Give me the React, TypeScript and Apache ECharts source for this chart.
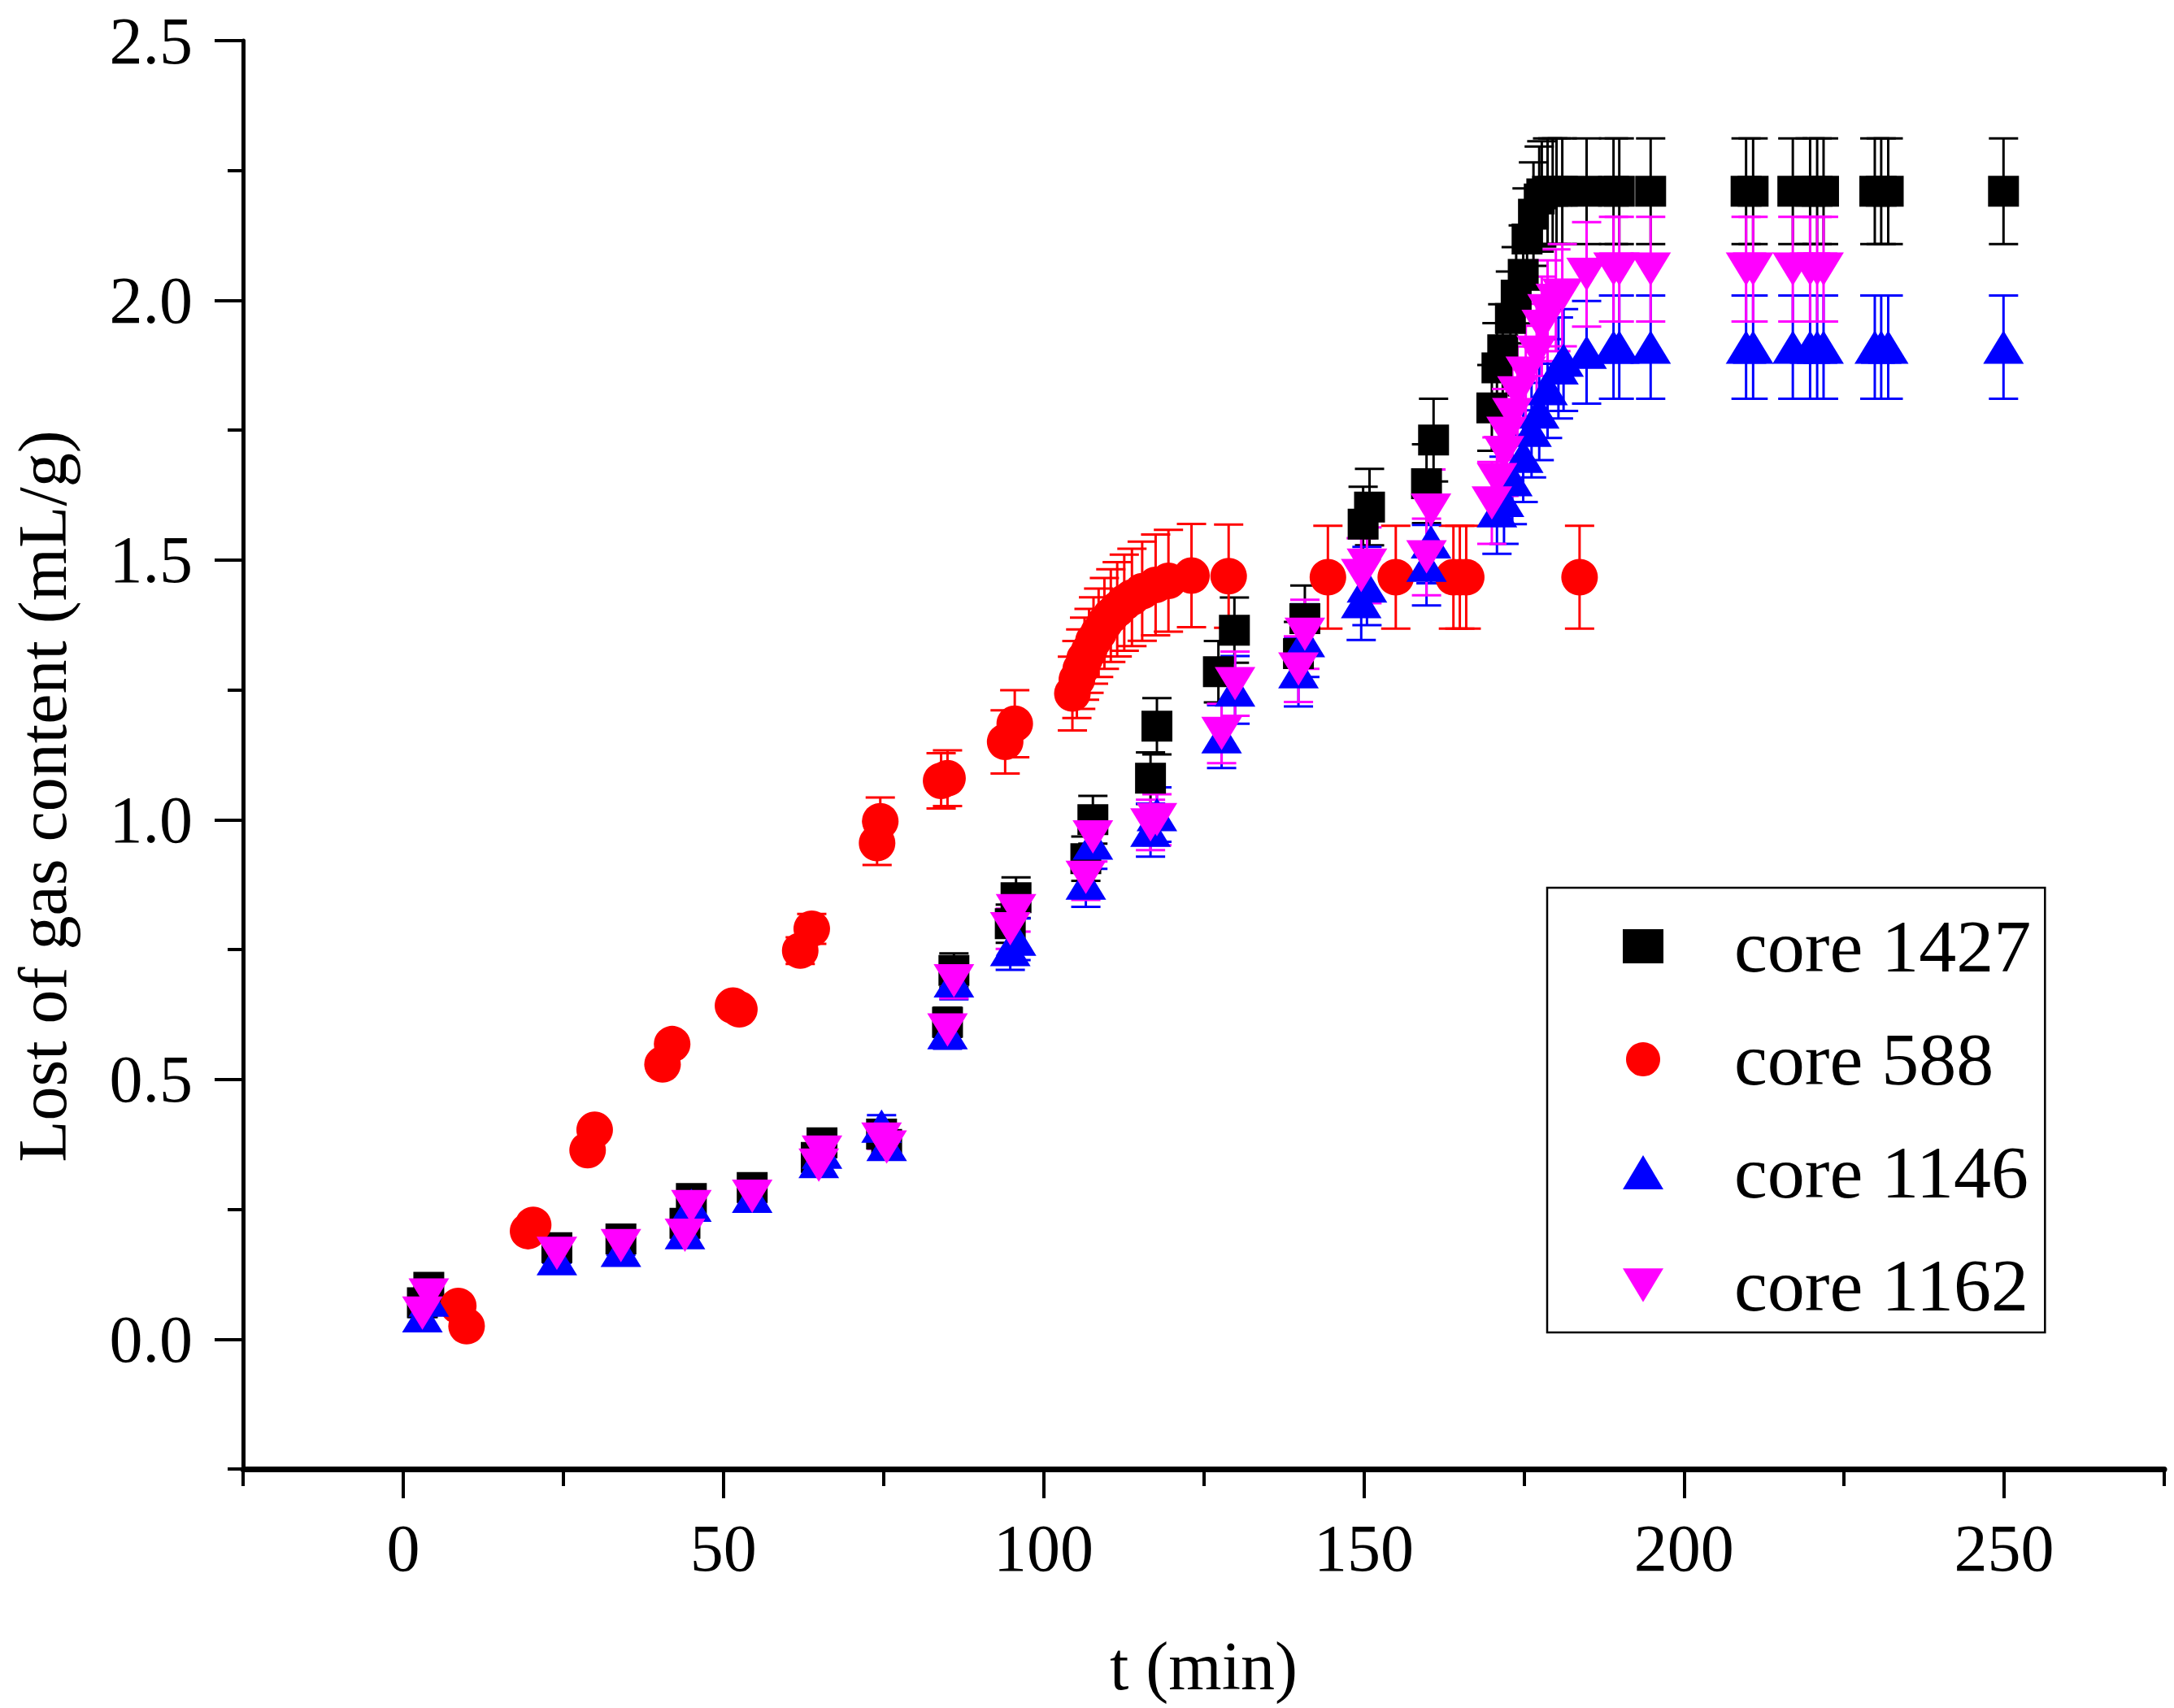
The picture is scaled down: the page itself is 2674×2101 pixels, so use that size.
import React, { useEffect, useRef } from "react";
import * as echarts from "echarts";

// ---- data ----
const T1427 = [3, 4, 24, 34, 44, 45, 54.5, 64.5, 65.4, 74.7, 75.5, 85, 86, 94.8, 95.7, 106.6, 107.7, 116.7, 117.7, 127.3, 129.8, 139.8, 140.8, 149.9, 150.9, 159.8, 160.9, 170.0, 170.8, 171.7, 172.9, 173.8, 174.9, 175.5, 176.5, 177.4, 177.8, 178.7, 179.5, 180.1, 181.0, 184.8, 189.0, 189.9, 194.8, 209.7, 210.8, 217.0, 219.7, 220.8, 221.8, 229.8, 230.8, 231.9, 249.9];
const V1427 = [0.07, 0.10, 0.176, 0.193, 0.223, 0.271, 0.292, 0.35, 0.378, 0.395, 0.375, 0.61, 0.71, 0.80, 0.85, 0.925, 1.0, 1.08, 1.18, 1.285, 1.365, 1.32, 1.387, 1.569, 1.602, 1.647, 1.731, 1.793, 1.87, 1.905, 1.965, 2.01, 2.05, 2.118, 2.166, 2.195, 2.205, 2.21, 2.21, 2.21, 2.21, 2.21, 2.21, 2.21, 2.21, 2.21, 2.21, 2.21, 2.21, 2.21, 2.21, 2.21, 2.21, 2.21, 2.21];

const T588 = [8.6, 9.9, 19.5, 20.3, 28.8, 29.9, 40.5, 42.0, 51.5, 52.5, 62.0, 63.8, 74.0, 74.5, 84.0, 85.0, 94.0, 95.5, 104.5, 105.2, 105.8, 106.4, 107.1, 107.8, 108.6, 109.5, 110.5, 111.5, 112.6, 113.8, 115.4, 117.5, 119.5, 123.1, 128.9, 144.4, 155.0, 164.0, 165.0, 166.0, 183.7];
const V588 = [0.064, 0.025, 0.208, 0.22, 0.364, 0.403, 0.529, 0.568, 0.642, 0.635, 0.748, 0.79, 0.955, 0.997, 1.075, 1.08, 1.15, 1.185, 1.243, 1.27, 1.29, 1.31, 1.325, 1.345, 1.36, 1.378, 1.393, 1.405, 1.418, 1.428, 1.44, 1.452, 1.46, 1.47, 1.469, 1.467, 1.467, 1.467, 1.467, 1.467, 1.467];

const T1146 = [3, 4, 24, 34, 44, 45, 54.5, 64.9, 65.4, 74.7, 75.5, 85, 86, 94.8, 95.7, 106.6, 107.7, 116.7, 117.7, 127.8, 129.9, 139.8, 140.8, 149.6, 150.5, 159.8, 160.5, 170.8, 171.9, 173.2, 174.9, 176.2, 177.4, 178.7, 180.4, 181.2, 184.8, 189.0, 189.9, 194.8, 209.7, 210.8, 217.0, 219.7, 220.8, 221.8, 229.8, 230.8, 231.9, 249.9];
const V1146 = [0.045, 0.075, 0.155, 0.171, 0.205, 0.258, 0.275, 0.342, 0.36, 0.41, 0.375, 0.59, 0.69, 0.75, 0.77, 0.878, 0.955, 0.98, 1.01, 1.16, 1.25, 1.285, 1.345, 1.42, 1.45, 1.49, 1.535, 1.595, 1.615, 1.655, 1.70, 1.75, 1.785, 1.83, 1.87, 1.885, 1.90, 1.91, 1.91, 1.91, 1.91, 1.91, 1.91, 1.91, 1.91, 1.91, 1.91, 1.91, 1.91, 1.91];

const T1162 = [3, 4, 24, 34, 44, 45, 54.5, 64.9, 65.4, 74.7, 75.5, 85, 86, 94.8, 95.7, 106.6, 107.7, 116.7, 117.7, 127.8, 129.9, 139.8, 140.8, 149.6, 150.5, 159.8, 160.5, 170.0, 170.8, 171.9, 172.3, 173.2, 174.0, 175.3, 177.0, 177.8, 178.7, 180.0, 181.0, 184.8, 189.0, 189.9, 194.8, 209.7, 210.8, 217.0, 219.7, 220.8, 221.8];
const V1162 = [0.05, 0.085, 0.165, 0.18, 0.2, 0.255, 0.275, 0.335, 0.36, 0.385, 0.37, 0.595, 0.69, 0.79, 0.825, 0.889, 0.967, 0.99, 1.0, 1.166, 1.262, 1.29, 1.357, 1.47, 1.49, 1.506, 1.596, 1.61, 1.655, 1.707, 1.744, 1.78, 1.822, 1.86, 1.90, 1.95, 1.98, 2.0, 2.01, 2.05, 2.06, 2.06, 2.06, 2.06, 2.06, 2.06, 2.06, 2.06, 2.06];

const X_LABELS = [0, 50, 100, 150, 200, 250];
const X_MINOR = [-25, 25, 75, 125, 175, 225, 275];
const Y_LABELS = [0, 0.5, 1.0, 1.5, 2.0, 2.5];
const Y_MINOR = [-0.25, 0.25, 0.75, 1.25, 1.75, 2.25];

const FONT = "'Liberation Serif', 'Times New Roman', serif";
const DOWN_TRIANGLE = "path://M0,0 L12,0 L6,10 Z";

type SeriesDef = {
  name: string;
  t: number[];
  v: number[];
  color: string;
  symbol: string;
  size: number | number[];
  rotate: number;
  legendIcon?: string;
  err: (v: number) => number;
};

const SERIES: SeriesDef[] = [
  { name: "core 1427", t: T1427, v: V1427, color: "#000000", symbol: "rect", size: 38, rotate: 0, legendIcon: "rect", err: (v) => 0.046 * v },
  { name: "core 588", t: T588, v: V588, color: "#ff0000", symbol: "circle", size: 45, rotate: 0, legendIcon: "circle", err: (v) => 0.046 * v * v },
  { name: "core 1146", t: T1146, v: V1146, color: "#0000ff", symbol: "triangle", size: [50, 41], rotate: 0, legendIcon: "triangle", err: (v) => 0.052 * v },
  { name: "core 1162", t: T1162, v: V1162, color: "#ff00ff", symbol: "triangle", size: [50, 41], rotate: 180, legendIcon: DOWN_TRIANGLE, err: (v) => 0.049 * v },
];

export default function App() {
  const ref = useRef<HTMLDivElement>(null);

  useEffect(() => {
    if (!ref.current) return;
    const chart = echarts.init(ref.current, undefined, { renderer: "svg" });

    const series: any[] = [];
    SERIES.forEach((s) => {
      const pts = s.t.map((t, i) => [t, s.v[i]]);
      const errPts = s.t.map((t, i) => [t, s.v[i], s.err(s.v[i])]);
      series.push({
        type: "custom",
        name: s.name + " err",
        data: errPts,
        encode: { x: 0, y: 1 },
        silent: true,
        renderItem: (params: any, api: any) => {
          const x = api.value(0);
          const y = api.value(1);
          const e = api.value(2);
          const top = api.coord([x, y + e]);
          const bot = api.coord([x, y - e]);
          const hw = 18;
          const style = { stroke: s.color, lineWidth: 3 };
          return {
            type: "group",
            children: [
              { type: "line", shape: { x1: top[0], y1: top[1], x2: bot[0], y2: bot[1] }, style },
              { type: "line", shape: { x1: top[0] - hw, y1: top[1], x2: top[0] + hw, y2: top[1] }, style },
              { type: "line", shape: { x1: bot[0] - hw, y1: bot[1], x2: bot[0] + hw, y2: bot[1] }, style },
            ],
          };
        },
      });
      series.push({
        type: "scatter",
        name: s.name,
        data: pts,
        symbol: s.symbol,
        symbolSize: s.size,
        symbolRotate: s.rotate,
        itemStyle: { color: s.color, opacity: 1 },
        emphasis: { disabled: true },
      });
    });

    const axisLabelStyle = { fontFamily: FONT, fontSize: 82, color: "#000" };

    chart.setOption({
      animation: false,
      backgroundColor: "#ffffff",
      grid: { left: 299, right: 12, top: 50, bottom: 294, containLabel: false, outerBoundsMode: "none" },
      legend: {
        data: SERIES.map((s) => ({ name: s.name, icon: s.legendIcon, itemStyle: { color: s.color } })),
        orient: "vertical",
        left: 1903,
        top: 1092,
        padding: [22, 17, 8, 93],
        itemGap: 39,
        itemWidth: 50,
        itemHeight: 42,
        borderColor: "#000",
        borderWidth: 2.5,
        backgroundColor: "#ffffff",
        selectedMode: false,
        textStyle: { fontFamily: FONT, fontSize: 92, color: "#000", lineHeight: 100, padding: [0, 0, 0, 82] },
      },
      xAxis: [
        {
          type: "value",
          min: -25,
          max: 275,
          position: "bottom",
          name: "t (min)",
          nameLocation: "middle",
          nameGap: 200,
          nameTextStyle: { fontFamily: FONT, fontSize: 84, color: "#000" },
          axisLine: { show: true, onZero: false, lineStyle: { color: "#000", width: 7 } },
          axisTick: { show: true, customValues: X_LABELS, length: 36, lineStyle: { color: "#000", width: 4 } },
          axisLabel: { show: true, customValues: X_LABELS, margin: 56, ...axisLabelStyle, formatter: (v: number) => String(v) },
          splitLine: { show: false },
        },
        {
          type: "value",
          min: -25,
          max: 275,
          position: "bottom",
          axisLine: { show: false, onZero: false },
          axisTick: { show: true, customValues: X_MINOR, length: 21, lineStyle: { color: "#000", width: 4 } },
          axisLabel: { show: false },
          splitLine: { show: false },
        },
      ],
      yAxis: [
        {
          type: "value",
          min: -0.25,
          max: 2.5,
          position: "left",
          name: "Lost of gas content (mL/g)",
          nameLocation: "middle",
          nameRotate: 90,
          nameGap: 205,
          nameTextStyle: { fontFamily: FONT, fontSize: 84, color: "#000", padding: [0, 102, 0, 0] },
          axisLine: { show: true, onZero: false, lineStyle: { color: "#000", width: 5 } },
          axisTick: { show: true, customValues: Y_LABELS, length: 35, lineStyle: { color: "#000", width: 4 } },
          axisLabel: { show: true, customValues: Y_LABELS, margin: 62, ...axisLabelStyle, formatter: (v: number) => v.toFixed(1) },
          splitLine: { show: false },
        },
        {
          type: "value",
          min: -0.25,
          max: 2.5,
          position: "left",
          axisLine: { show: false, onZero: false },
          axisTick: { show: true, customValues: Y_MINOR, length: 19, lineStyle: { color: "#000", width: 4 } },
          axisLabel: { show: false },
          splitLine: { show: false },
        },
      ],
      series,
    });

    return () => chart.dispose();
  }, []);

  return (
    <div
      ref={ref}
      style={{ position: "fixed", left: 0, top: 0, width: 2674, height: 2101, background: "#fff" }}
    />
  );
}
